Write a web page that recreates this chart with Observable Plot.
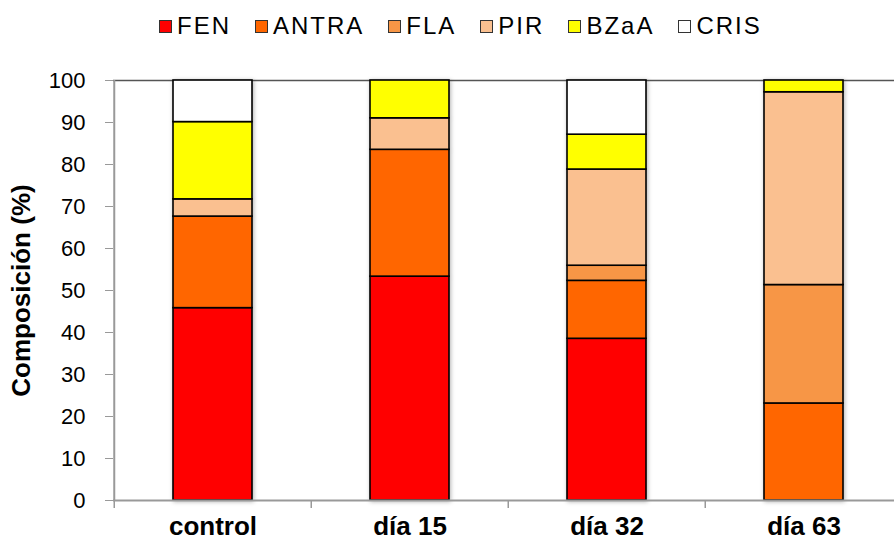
<!DOCTYPE html>
<html>
<head>
<meta charset="utf-8">
<script src="https://cdn.jsdelivr.net/npm/d3@7"></script>
<script src="https://cdn.jsdelivr.net/npm/@observablehq/plot@0.6"></script>
<style>
  html, body { margin: 0; padding: 0; background: #fff; }
  body { width: 894px; height: 542px; overflow: hidden; font-family: "Liberation Sans", Arial, sans-serif; }
  #legend { height: 52px; display: flex; align-items: center; padding-left: 159px; box-sizing: border-box; }
  .item { display: flex; align-items: center; margin-right: 24px; font-size: 24px; letter-spacing: 2px; color: #000; }
  .sw { width: 11px; height: 11px; border: 1px solid #333; margin-right: 5px; }
  .bars { filter: drop-shadow(1px 1px 2px rgba(0,0,0,0.3)); }
</style>
</head>
<body>
<div id="legend"></div>
<div id="chart"></div>
<script>
const categories = ["control", "día 15", "día 32", "día 63"];
const series = ["FEN", "ANTRA", "FLA", "PIR", "BZaA", "CRIS"];
const colors = ["#FF0000", "#FF6600", "#F79646", "#FAC090", "#FFFF00", "#FFFFFF"];
const FEN   = [45.8, 53.3, 38.5, 0];
const ANTRA = [21.8, 30.2, 13.8, 23.1];
const FLA   = [0, 0, 3.6, 28.2];
const PIR   = [4.1, 7.5, 22.9, 45.9];
const BZaA  = [18.4, 9.0, 8.3, 2.8];
const CRIS  = [9.9, 0, 12.9, 0];
const yTicks = [0, 10, 20, 30, 40, 50, 60, 70, 80, 90, 100];

const valuesBySeries = [FEN, ANTRA, FLA, PIR, BZaA, CRIS];
const data = [];
categories.forEach((c, i) => {
  series.forEach((s, j) => {
    data.push({cat: c, series: s, value: valuesBySeries[j][i]});
  });
});

// legend
const legend = document.getElementById("legend");
series.forEach((s, j) => {
  const it = document.createElement("div");
  it.className = "item";
  const sw = document.createElement("div");
  sw.className = "sw";
  sw.style.background = colors[j];
  it.appendChild(sw);
  const t = document.createElement("span");
  t.textContent = s;
  it.appendChild(t);
  legend.appendChild(it);
});

const chart = Plot.plot({
  width: 894,
  height: 490,
  marginTop: 28,
  marginBottom: 42,
  marginLeft: 113,
  marginRight: 0,
  style: {fontFamily: "'Liberation Sans', Arial, sans-serif", background: "#fff", overflow: "hidden"},
  x: {domain: categories, range: [113, 903], padding: 0},
  y: {domain: [0, 100]},
  color: {domain: series, range: colors},
  marks: [
    Plot.ruleY([100], {stroke: "#555", strokeWidth: 1.5}),
    Plot.barY(data.filter(d => d.value > 0), {
      x: "cat", y: "value", fill: "series", order: series,
      stroke: "#000", strokeWidth: 1.6, insetLeft: 59, insetRight: 59,
      className: "bars"
    }),
    Plot.ruleY([0], {stroke: "#999", strokeWidth: 2}),
    Plot.ruleX(categories, {x: d => d, dx: -98.75, y1: 0, y2: -1.9, stroke: "#999", strokeWidth: 1.5}),
    Plot.ruleX([categories[0]], {x: d => d, dx: -98.75, y1: 0, y2: 100, stroke: "#999", strokeWidth: 2}),
    Plot.axisY({ticks: yTicks, tickSize: 8, tickPadding: 20, stroke: "#999", fontSize: 22, color: "#000", label: null, tickFormat: d => d}),
    Plot.axisY({ticks: [], label: "Composición (%)", labelAnchor: "center", labelArrow: false, labelOffset: 102, fontSize: 26, fontWeight: "bold"}),
    Plot.axisX({tickSize: 0, tickPadding: 16, fontSize: 26, fontWeight: "bold", label: null})
  ]
});
document.getElementById("chart").appendChild(chart);
</script>
</body>
</html>
